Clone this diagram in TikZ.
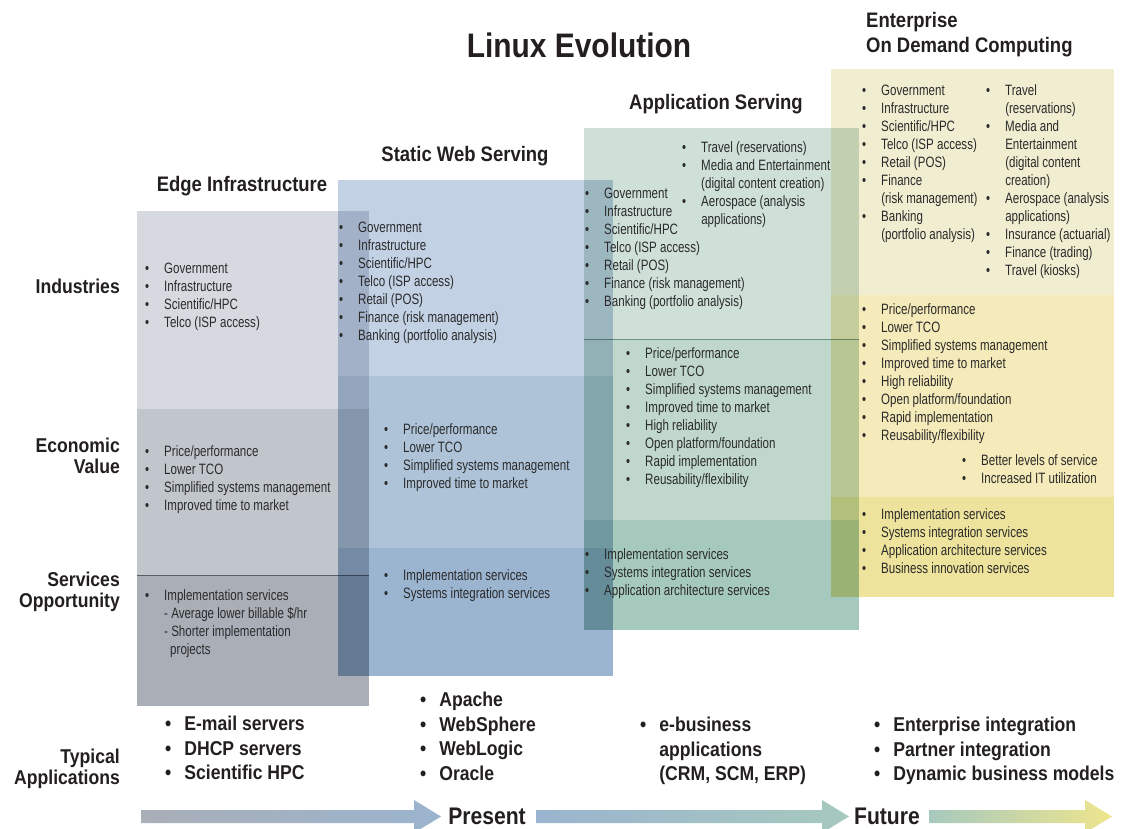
\documentclass[tikz,border=0pt]{standalone}
\usepackage{fontspec}
\setmainfont{Liberation Sans}
\newfontfamily\bodyfont{Liberation Sans}[FakeStretch=0.77]
\newfontfamily\headfont{Liberation Sans}[FakeStretch=0.88]

\definecolor{edgeA}{HTML}{D6D9E0}
\definecolor{edgeB}{HTML}{C1C5CC}
\definecolor{edgeC}{HTML}{A9AEB7}
\definecolor{webA}{HTML}{C2D1E4}
\definecolor{webB}{HTML}{AEC3D8}
\definecolor{webC}{HTML}{9BB4CF}
\definecolor{appA}{HTML}{CFE0D8}
\definecolor{appB}{HTML}{C0D8CC}
\definecolor{appC}{HTML}{A6C9BD}
\definecolor{odA}{HTML}{F0EDD1}
\definecolor{odB}{HTML}{F5EAB9}
\definecolor{odC}{HTML}{EDE39C}
\definecolor{ink}{HTML}{231F20}
\definecolor{bodyink}{HTML}{2A2A2A}

\newcommand{\itemtab}[1]{\begin{tabular}[t]{@{}l@{\hspace{15pt}}l@{}}#1\end{tabular}}
\newcommand{\apptab}[1]{\begin{tabular}[t]{@{}l@{\hspace{13pt}}l@{}}#1\end{tabular}}
\newcommand{\timearrow}[4]{%
  \shade[left color=#3, right color=#4]
    (#1,810) -- (#2-27,810) -- (#2-27,800) -- (#2,816.5) -- (#2-27,833)
    -- (#2-27,823) -- (#1,823) -- cycle;}

\tikzset{
  items/.style={anchor=base west, inner sep=0pt, text=bodyink,
    font=\bodyfont\fontsize{15}{18}\selectfont},
  apps/.style={anchor=base west, inner sep=0pt, text=ink,
    font=\headfont\bfseries\fontsize{20}{24.5}\selectfont},
  heading/.style={anchor=base, inner sep=0pt, text=ink,
    font=\headfont\bfseries\fontsize{21}{25}\selectfont},
  rowlabel/.style={anchor=base east, align=right, inner sep=0pt, text=ink,
    font=\headfont\bfseries\fontsize{20}{21}\selectfont},
}

\begin{document}
\begin{tikzpicture}[x=1pt, y=-1pt]
    \useasboundingbox (0,0) rectangle (1128,829);

    \begin{scope}[blend mode=multiply]
        \fill[edgeA] (137,211) rectangle (369,409);
        \fill[edgeB] (137,409) rectangle (369,575);
        \fill[edgeC] (137,575) rectangle (369,706);
        \fill[webA] (338,180) rectangle (613,376);
        \fill[webB] (338,376) rectangle (613,548);
        \fill[webC] (338,548) rectangle (613,676);
        \fill[appA] (584,128) rectangle (859,339);
        \fill[appB] (584,339) rectangle (859,520);
        \fill[appC] (584,520) rectangle (859,630);
        \fill[odA] (831,69) rectangle (1114,295);
        \fill[odB] (831,295) rectangle (1114,497);
        \fill[odC] (831,497) rectangle (1114,597);
        \draw[edgeC!80!black, line width=0.8pt] (137,575) -- (369,575);
        \draw[appC!85!black, line width=0.8pt] (584,339) -- (859,339);
    \end{scope}

    \node[heading, font=\headfont\bfseries\fontsize{34}{36}\selectfont] (title) at (579,57.5) {Linux Evolution};
    \node[heading] (edge) at (242,192) {Edge Infrastructure};
    \node[heading] (web) at (465,161.5) {Static Web Serving};
    \node[heading] (app) at (716,109.5) {Application Serving};
    \node[heading, anchor=base west, align=left] (demand) at (866,52.5) {Enterprise\\On Demand Computing};

    \node[rowlabel] (industries) at (120,294) {Industries};
    \node[rowlabel] (economic) at (120,473) {Economic\\Value};
    \node[rowlabel] (services) at (120,607) {Services\\Opportunity};
    \node[rowlabel] (typical) at (120,784) {Typical\\Applications};

    \node[items] (edgeind) at (145,273.5) {\itemtab{
        \textbullet & Government\\
        \textbullet & Infrastructure\\
        \textbullet & Scientific/HPC\\
        \textbullet & Telco (ISP access)}};
    \node[items] (edgeval) at (145,456.5) {\itemtab{
        \textbullet & Price/performance\\
        \textbullet & Lower TCO\\
        \textbullet & Simplified systems management\\
        \textbullet & Improved time to market}};
    \node[items] (edgesvc) at (145,600.5) {\itemtab{
        \textbullet & Implementation services\\
        & - Average lower billable \$/hr\\
        & - Shorter implementation\\
        & \hspace{6pt}projects}};

    \node[items] (webind) at (339,232.5) {\itemtab{
        \textbullet & Government\\
        \textbullet & Infrastructure\\
        \textbullet & Scientific/HPC\\
        \textbullet & Telco (ISP access)\\
        \textbullet & Retail (POS)\\
        \textbullet & Finance (risk management)\\
        \textbullet & Banking (portfolio analysis)}};
    \node[items] (webval) at (384,434.5) {\itemtab{
        \textbullet & Price/performance\\
        \textbullet & Lower TCO\\
        \textbullet & Simplified systems management\\
        \textbullet & Improved time to market}};
    \node[items] (websvc) at (384,580.5) {\itemtab{
        \textbullet & Implementation services\\
        \textbullet & Systems integration services}};

    \node[items] (appind) at (585,198.5) {\itemtab{
        \textbullet & Government\\
        \textbullet & Infrastructure\\
        \textbullet & Scientific/HPC\\
        \textbullet & Telco (ISP access)\\
        \textbullet & Retail (POS)\\
        \textbullet & Finance (risk management)\\
        \textbullet & Banking (portfolio analysis)}};
    \node[items] (appindnew) at (682,152.5) {\itemtab{
        \textbullet & Travel (reservations)\\
        \textbullet & Media and Entertainment\\
        & (digital content creation)\\
        \textbullet & Aerospace (analysis\\
        & applications)}};
    \node[items] (appval) at (626,358.5) {\itemtab{
        \textbullet & Price/performance\\
        \textbullet & Lower TCO\\
        \textbullet & Simplified systems management\\
        \textbullet & Improved time to market\\
        \textbullet & High reliability\\
        \textbullet & Open platform/foundation\\
        \textbullet & Rapid implementation\\
        \textbullet & Reusability/flexibility}};
    \node[items] (appsvc) at (585,559.5) {\itemtab{
        \textbullet & Implementation services\\
        \textbullet & Systems integration services\\
        \textbullet & Application architecture services}};

    \node[items] (odind) at (862,95.5) {\itemtab{
        \textbullet & Government\\
        \textbullet & Infrastructure\\
        \textbullet & Scientific/HPC\\
        \textbullet & Telco (ISP access)\\
        \textbullet & Retail (POS)\\
        \textbullet & Finance\\
        & (risk management)\\
        \textbullet & Banking\\
        & (portfolio analysis)}};
    \node[items] (odindnew) at (986,95.5) {\itemtab{
        \textbullet & Travel\\
        & (reservations)\\
        \textbullet & Media and\\
        & Entertainment\\
        & (digital content\\
        & creation)\\
        \textbullet & Aerospace (analysis\\
        & applications)\\
        \textbullet & Insurance (actuarial)\\
        \textbullet & Finance (trading)\\
        \textbullet & Travel (kiosks)}};
    \node[items] (odval) at (862,314.5) {\itemtab{
        \textbullet & Price/performance\\
        \textbullet & Lower TCO\\
        \textbullet & Simplified systems management\\
        \textbullet & Improved time to market\\
        \textbullet & High reliability\\
        \textbullet & Open platform/foundation\\
        \textbullet & Rapid implementation\\
        \textbullet & Reusability/flexibility}};
    \node[items] (odvalnew) at (962,465.5) {\itemtab{
        \textbullet & Better levels of service\\
        \textbullet & Increased IT utilization}};
    \node[items] (odsvc) at (862,519.5) {\itemtab{
        \textbullet & Implementation services\\
        \textbullet & Systems integration services\\
        \textbullet & Application architecture services\\
        \textbullet & Business innovation services}};

    \node[apps] (edgeapps) at (165,730.5) {\apptab{
        \textbullet & E-mail servers\\
        \textbullet & DHCP servers\\
        \textbullet & Scientific HPC}};
    \node[apps] (webapps) at (420,706.5) {\apptab{
        \textbullet & Apache\\
        \textbullet & WebSphere\\
        \textbullet & WebLogic\\
        \textbullet & Oracle}};
    \node[apps] (appapps) at (640,731.5) {\apptab{
        \textbullet & e-business\\
        & applications\\
        & (CRM, SCM, ERP)}};
    \node[apps] (odapps) at (874,731.5) {\apptab{
        \textbullet & Enterprise integration\\
        \textbullet & Partner integration\\
        \textbullet & Dynamic business models}};

    \timearrow{141}{441}{edgeC}{webC}
    \timearrow{536}{849}{webC}{appC}
    \timearrow{929}{1112}{appC}{odC!90!yellow}
    \node[heading, font=\headfont\bfseries\fontsize{24}{26}\selectfont] (present) at (487,824) {Present};
    \node[heading, font=\headfont\bfseries\fontsize{24}{26}\selectfont] (future) at (887,824) {Future};
\end{tikzpicture}
\end{document}
